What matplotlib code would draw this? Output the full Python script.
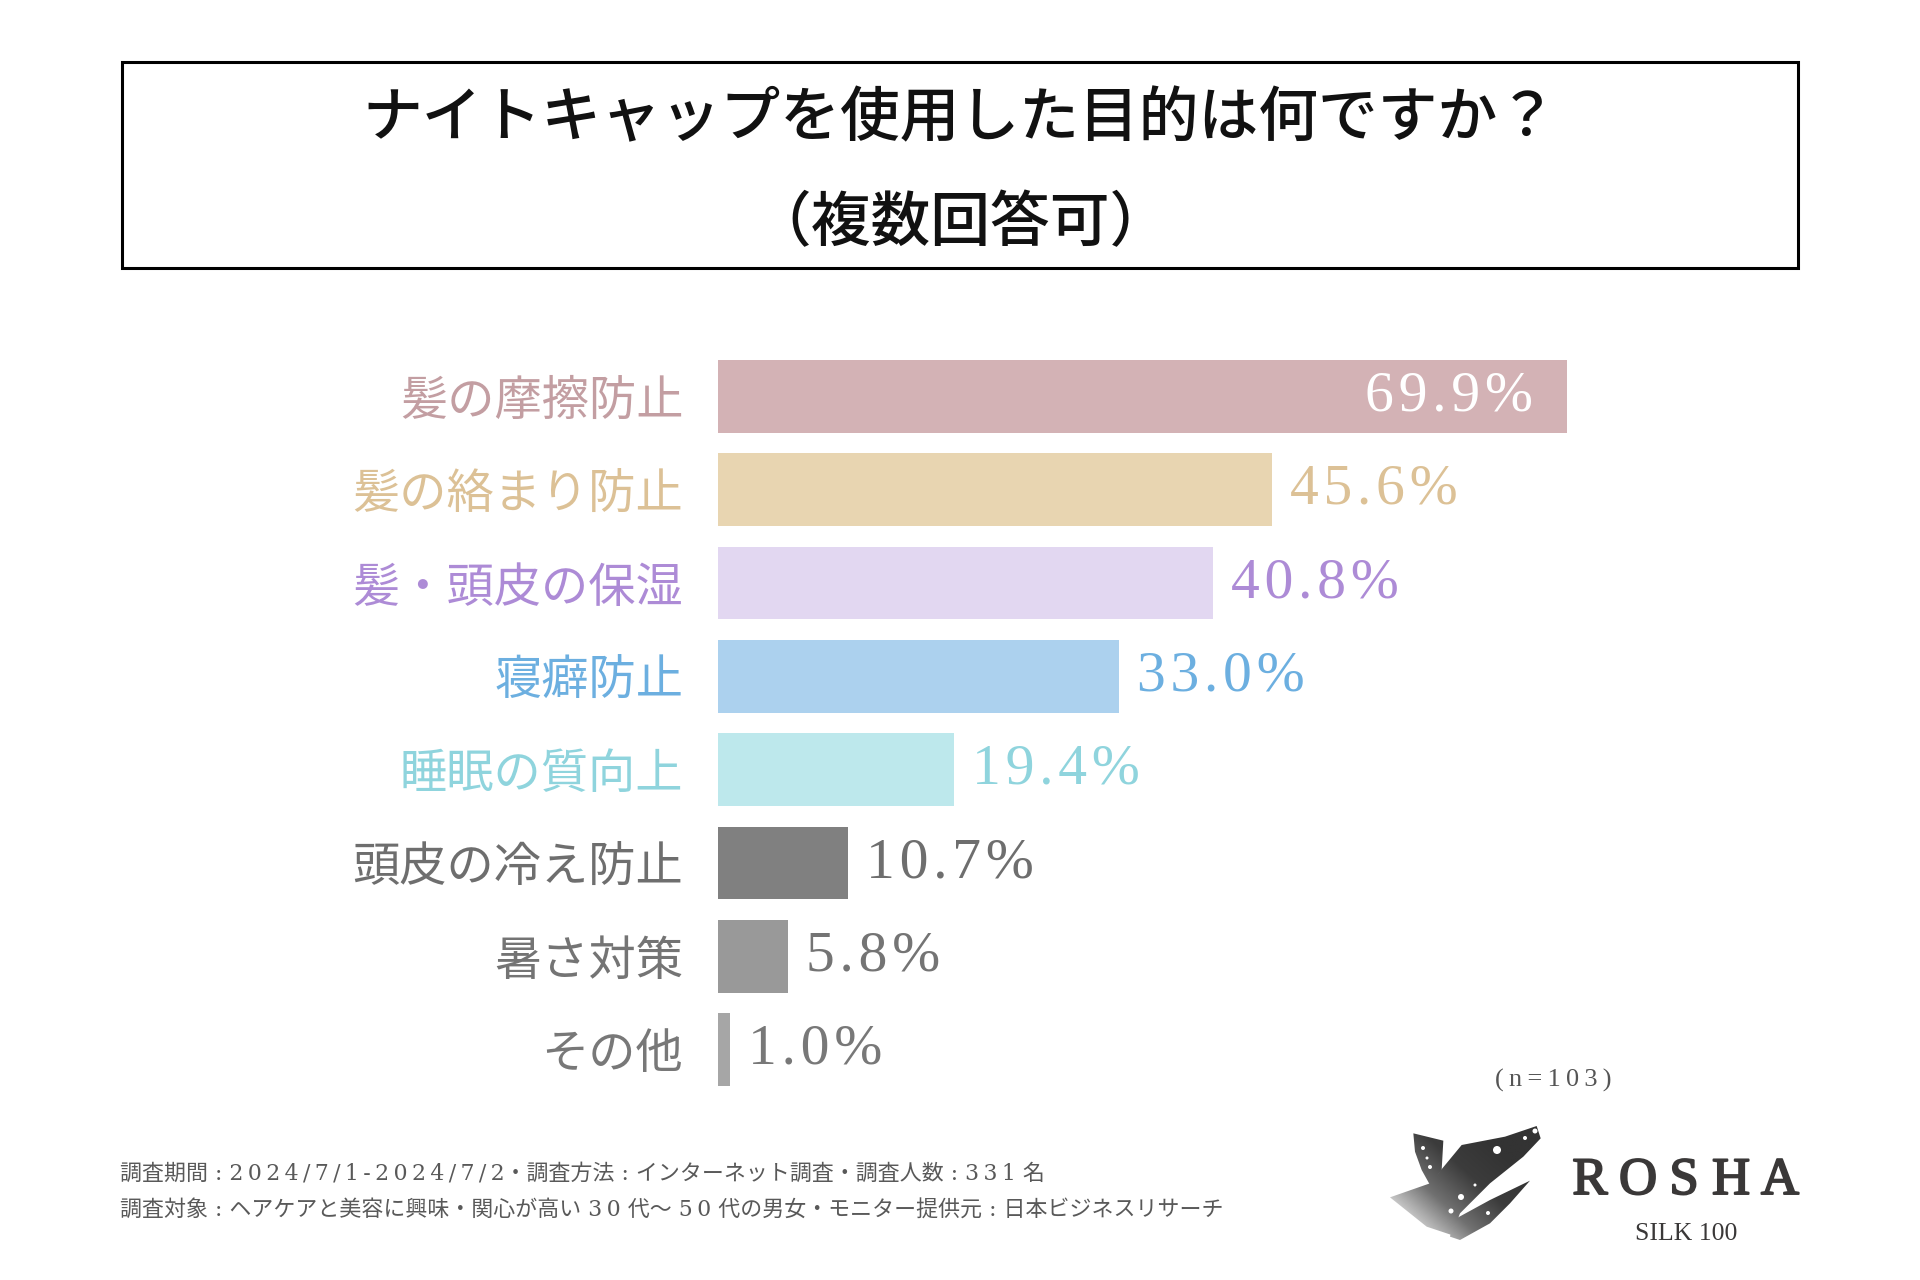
import numpy as np
import matplotlib
matplotlib.use('Agg')
import matplotlib.pyplot as plt
import matplotlib.patheffects as pe
from matplotlib.patches import Rectangle, Polygon, Circle
from matplotlib.colors import LinearSegmentedColormap

plt.rcParams['font.family'] = ['Noto Sans CJK JP', 'DejaVu Sans']

# ---- data ----
categories  = ['髪の摩擦防止', '髪の絡まり防止', '髪・頭皮の保湿', '寝癖防止',
               '睡眠の質向上', '頭皮の冷え防止', '暑さ対策', 'その他']
values      = [69.9, 45.6, 40.8, 33.0, 19.4, 10.7, 5.8, 1.0]
bar_colors  = ['#d3b2b5', '#e8d5b1', '#e2d7f1', '#acd1ee',
               '#bde8ec', '#808080', '#999999', '#a6a6a6']
text_colors = ['#c39ea2', '#dcc196', '#ad8bd6', '#6cafe0',
               '#8fd4dd', '#6e6e6e', '#747474', '#787878']

title1 = 'ナイトキャップを使用した目的は何ですか？'
title2 = '（複数回答可）'
note1  = '調査期間 : 2024/7/1-2024/7/2・調査方法 : インターネット調査・調査人数 : 331 名'
note2  = '調査対象 : ヘアケアと美容に興味・関心が高い 30 代～ 50 代の男女・モニター提供元 : 日本ビジネスリサーチ'
n_text = '(n=103)'
brand  = 'ROSHA'
sub_brand = 'SILK 100'

SERIF = ['Liberation Serif', 'DejaVu Serif']
W, H = 1920, 1280


def track(s, sp='\u2009'):
    # wider spacing between neighbouring ascii characters, as in the original
    out = ''
    for a, b in zip(s, s[1:] + ' '):
        out += a
        if a.isascii() and b.isascii() and a != ' ' and b != ' ':
            out += sp
    return out


fig = plt.figure(figsize=(19.2, 12.8), dpi=100)
fig.patch.set_facecolor('white')

# overlay in pixel coords for box, notes, logo
ov = fig.add_axes([0, 0, 1, 1])
ov.set_xlim(0, W)
ov.set_ylim(H, 0)
ov.axis('off')

ov.add_patch(Rectangle((121.5, 61.5), 1676, 206, fill=False, ec='black', lw=2.2))
ov.text(960, 119, title1, ha='center', va='center', fontsize=43, color='#111111', weight=500)
ov.text(960, 224, title2, ha='center', va='center', fontsize=43, color='#111111', weight=500)

# ---- bars ----
pitch = 93.3
top = 396.5 - pitch / 2
ax = fig.add_axes([718 / W, 1 - (top + 8 * pitch) / H, 1214 / W, 8 * pitch / H])
ypos = np.arange(len(values))
ax.barh(ypos, values, height=0.78, color=bar_colors)
ax.set_xlim(0, 100)
ax.set_ylim(len(values) - 0.5, -0.5)
ax.set_yticks(ypos, categories)
ax.tick_params(axis='y', length=0, pad=25, labelsize=34)
ax.set_xticks([])
for lab, c in zip(ax.get_yticklabels(), text_colors):
    lab.set_color(c)
for s in ax.spines.values():
    s.set_visible(False)
ax.patch.set_alpha(0)

for i, v in enumerate(values):
    lbl = track('%.1f%%' % v, '\u200a')
    if i == 0:
        ax.annotate(lbl, (v, i), xytext=(-24, 0), textcoords='offset points',
                    ha='right', va='center', fontsize=41.5, color='white', family=SERIF)
    else:
        ax.annotate(lbl, (v, i), xytext=(13, 0), textcoords='offset points',
                    ha='left', va='center', fontsize=41.5, color=text_colors[i], family=SERIF)

# ---- notes ----
ov.text(1553, 1080, track(n_text), ha='center', va='center', fontsize=19,
        color='#555555', family=SERIF)
note_font = ['DejaVu Serif', 'Noto Sans CJK JP']
ov.text(120, 1173, track(note1), ha='left', va='center', fontsize=15.8, color='#595959',
        family=note_font)
ov.text(120, 1211, track(note2), ha='left', va='center', fontsize=15.8, color='#595959',
        family=note_font)

# ---- logo ----
for ch, cx in zip(brand, [1590, 1638, 1684, 1731, 1780]):
    ov.text(cx, 1181, ch, ha='center', va='center', fontsize=38, color='#3a3838', family=SERIF,
            path_effects=[pe.withStroke(linewidth=1.4, foreground='#3a3838')])
ov.text(1686, 1234, sub_brand, ha='center', va='center', fontsize=18.5, color='#3a3838',
        family=SERIF)

gx, gy = np.meshgrid(np.linspace(0, 1, 120), np.linspace(0, 1, 110))
grad = np.clip((gx + (1 - gy)) / 1.5, 0, 1)
cmap = LinearSegmentedColormap.from_list('logo', ['#ffffff', '#dadada', '#707070', '#3c3c3c', '#333333'])
shapes = [
    [(0, 232), (120, 190), (215, 75), (345, 50), (440, 18), (452, 55), (400, 110),
     (300, 190), (210, 280), (185, 345), (110, 320)],
    [(70, 40), (160, 62), (155, 150), (120, 195), (95, 150), (75, 95)],
    [(190, 300), (300, 240), (420, 182), (360, 250), (300, 310), (210, 360), (180, 350)],
]
for sh in shapes:
    pts = [(1390 + x / 3, 1120 + y / 3) for x, y in sh]
    poly = Polygon(pts, closed=True, fc='none', ec='none')
    ov.add_patch(poly)
    im = ov.imshow(grad, cmap=cmap, extent=(1390, 1545, 1260, 1120), origin='upper',
                   aspect='auto', interpolation='bilinear')
    im.set_clip_path(poly)
for cx, cy, r in [(1497, 1150, 4), (1461, 1197, 3), (1451, 1211, 2.5), (1525, 1138, 2),
                  (1430, 1167, 2), (1475, 1185, 1.5), (1520, 1200, 2), (1535, 1131, 2.5),
                  (1423, 1148, 2), (1427, 1158, 1.5), (1488, 1213, 2), (1500, 1221, 1.5)]:
    ov.add_patch(Circle((cx, cy), r, fc='white', ec='none'))
ov.set_xlim(0, W)
ov.set_ylim(H, 0)

fig.savefig('out.png', dpi=100, facecolor='white')
